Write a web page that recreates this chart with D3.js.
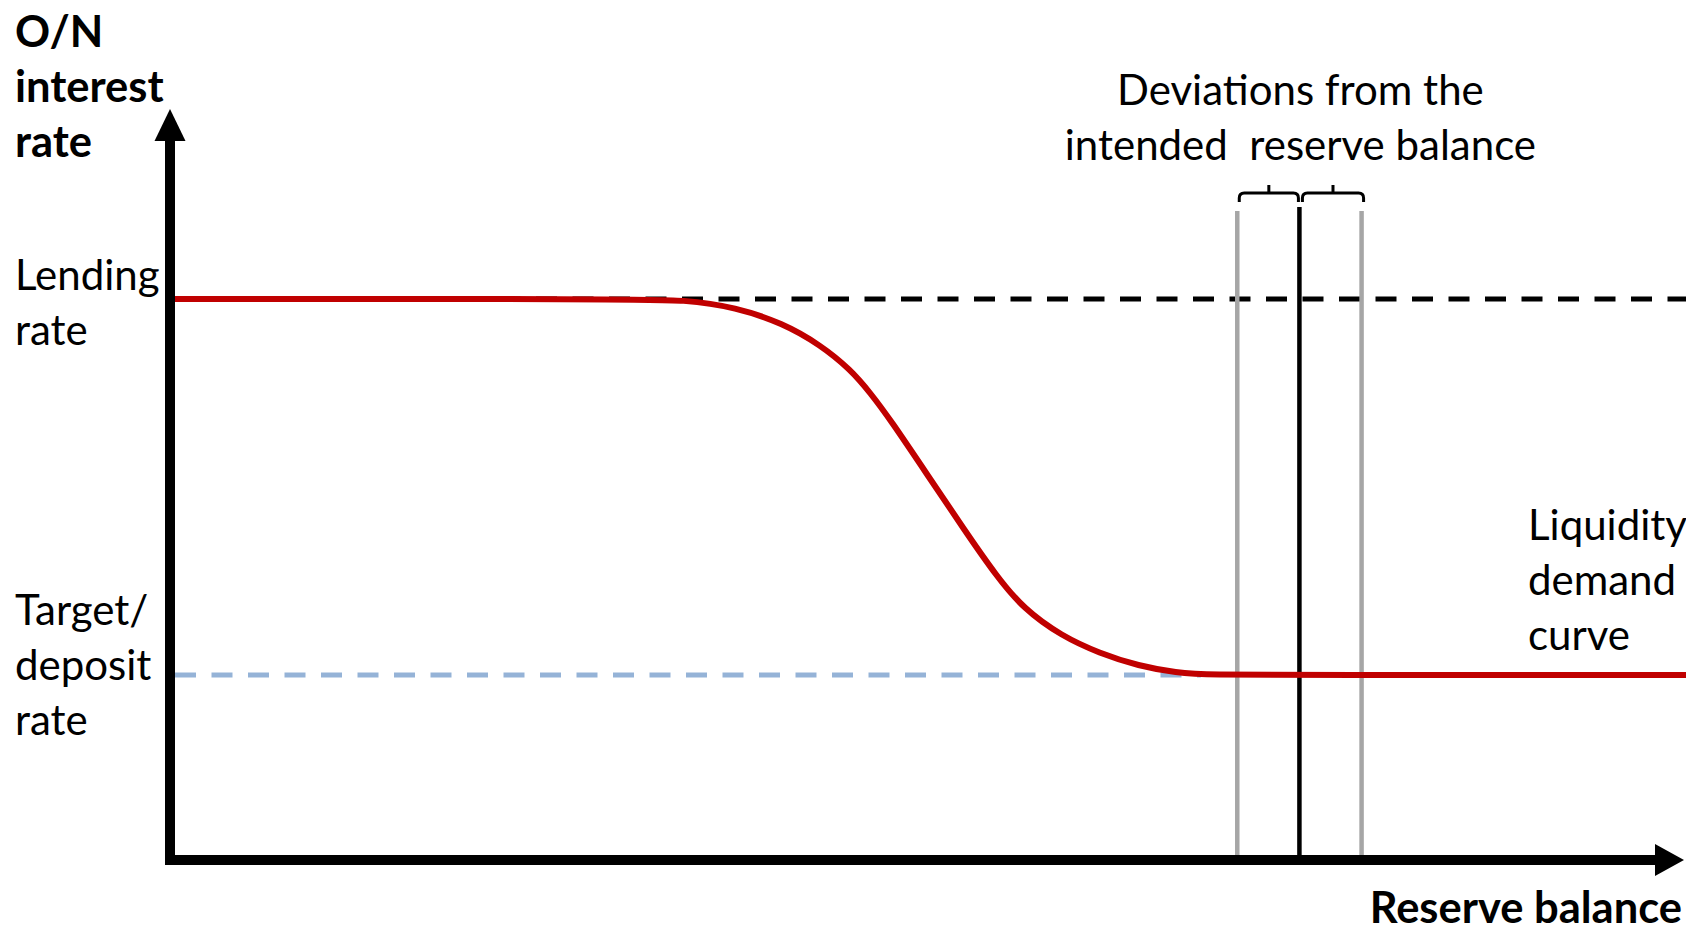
<!DOCTYPE html>
<html>
<head>
<meta charset="utf-8">
<script src="https://cdn.jsdelivr.net/npm/d3@7/dist/d3.min.js"></script>
<style>
  html, body { margin: 0; padding: 0; background: #fff; }
  svg { display: block; }
  text { font-family: Lato, "Open Sans", sans-serif; fill: #000; }
</style>
</head>
<body>
<svg id="chart" width="1686" height="933"></svg>
<script>
// ---- Data (schematic values, x = reserve balance, y = O/N rate) ----
const curveX = [0, 30.0, 34.0, 37.3, 40.4, 42.9, 44.9, 46.2, 47.5, 50.0, 52.5, 54.5, 56.3, 58.8, 61.3, 63.9, 66.4, 68.5, 75, 100];
const curveY = [7.5, 7.5, 7.49, 7.39, 7.18, 6.89, 6.56, 6.25, 5.90, 5.15, 4.40, 3.82, 3.38, 3.02, 2.79, 2.62, 2.53, 2.5, 2.5, 2.5];
const lendingRate = 7.5;
const depositRate = 2.5;
const intendedBalance = 74.5;
const deviationLow = 70.4;
const deviationHigh = 78.6;
const yAxisTitle = ["O/N", "interest", "rate"];
const xAxisTitle = "Reserve balance";
const lendingLabel = ["Lending", "rate"];
const depositLabel = ["Target/", "deposit", "rate"];
const curveLabel = ["Liquidity", "demand", "curve"];
const deviationLabel = ["Deviations from the", "intended\u00A0 reserve balance"];

// ---- Layout ----
const W = 1686, H = 933;
const svg = d3.select("#chart");
const x = d3.scaleLinear().domain([0, 100]).range([170, 1686]);
const y = d3.scaleLinear().domain([0, 10]).range([863, 111]);
const axisY = 860;        // x-axis baseline in px
const axisX = x(0);       // y-axis position

const FS = 42;      // regular text size
const FSB = 43.5;   // bold text size
const LH = 55;

// Dashed reference lines
svg.append("line")
  .attr("x1", axisX + 4).attr("x2", W)
  .attr("y1", y(lendingRate)).attr("y2", y(lendingRate))
  .attr("stroke", "#000").attr("stroke-width", 5)
  .attr("stroke-dasharray", "21 15.5").attr("stroke-dashoffset", 3);

svg.append("line")
  .attr("x1", axisX + 5).attr("x2", x(68))
  .attr("y1", y(depositRate)).attr("y2", y(depositRate))
  .attr("stroke", "#95b3d7").attr("stroke-width", 5)
  .attr("stroke-dasharray", "21 15.5");

// Vertical lines: deviations and intended balance
const vTop = 211;
[deviationLow, deviationHigh].forEach(v => {
  svg.append("line")
    .attr("x1", x(v)).attr("x2", x(v))
    .attr("y1", vTop).attr("y2", axisY)
    .attr("stroke", "#a6a6a6").attr("stroke-width", 4.5);
});
svg.append("line")
  .attr("x1", x(intendedBalance)).attr("x2", x(intendedBalance))
  .attr("y1", vTop - 4).attr("y2", axisY)
  .attr("stroke", "#000").attr("stroke-width", 4.5);

// Liquidity demand curve
const pts = curveX.map((d, i) => [d, curveY[i]]);
const line = d3.line().x(d => x(d[0])).y(d => y(d[1])).curve(d3.curveBasis);
svg.append("path")
  .attr("d", line(pts))
  .attr("fill", "none")
  .attr("stroke", "#c00000").attr("stroke-width", 6)
  .attr("stroke-linejoin", "round");

// Braces above the vertical lines
function brace(x0, x1) {
  const yb = 193, yd = 202, yt = 185, r = 5;
  const xm = (x0 + x1) / 2;
  return `M${x0},${yd} L${x0},${yb + r} Q${x0},${yb} ${x0 + r},${yb} L${x1 - r},${yb} Q${x1},${yb} ${x1},${yb + r} L${x1},${yd} M${xm},${yb} L${xm},${yt}`;
}
svg.append("path")
  .attr("d", brace(x(deviationLow) + 2, x(intendedBalance) - 1))
  .attr("fill", "none").attr("stroke", "#000").attr("stroke-width", 3);
svg.append("path")
  .attr("d", brace(x(intendedBalance) + 3, x(deviationHigh) + 2))
  .attr("fill", "none").attr("stroke", "#000").attr("stroke-width", 3);

// Axes with arrows
svg.append("line")
  .attr("x1", axisX).attr("x2", axisX)
  .attr("y1", axisY + 5).attr("y2", 138)
  .attr("stroke", "#000").attr("stroke-width", 10);
svg.append("path")
  .attr("d", `M${axisX},109 L${axisX - 15.5},141 L${axisX + 15.5},141 Z`)
  .attr("fill", "#000");
svg.append("line")
  .attr("x1", axisX - 5).attr("x2", 1657)
  .attr("y1", axisY).attr("y2", axisY)
  .attr("stroke", "#000").attr("stroke-width", 10);
svg.append("path")
  .attr("d", `M1684,${axisY} L1655,${axisY - 16} L1655,${axisY + 16} Z`)
  .attr("fill", "#000");

// Text helpers
function block(lines, xPos, firstBaseline, anchor, weight, size) {
  const t = svg.append("text")
    .attr("text-anchor", anchor)
    .attr("font-size", size)
    .attr("font-weight", weight);
  lines.forEach((s, i) => {
    t.append("tspan").attr("x", xPos).attr("y", firstBaseline + i * LH).text(s);
  });
  return t;
}

block(yAxisTitle, 15, 47, "start", "bold", FSB);
block(lendingLabel, 15, y(lendingRate) - 9, "start", "normal", FS);
block(depositLabel, 15, y(depositRate) - 50, "start", "normal", FS);
block(deviationLabel, x(intendedBalance) + 1, 105, "middle", "normal", FS);
block(curveLabel, 1528, y(depositRate) - 135, "start", "normal", FS);
block([xAxisTitle], 1682, 923, "end", "bold", FSB);
</script>
</body>
</html>
